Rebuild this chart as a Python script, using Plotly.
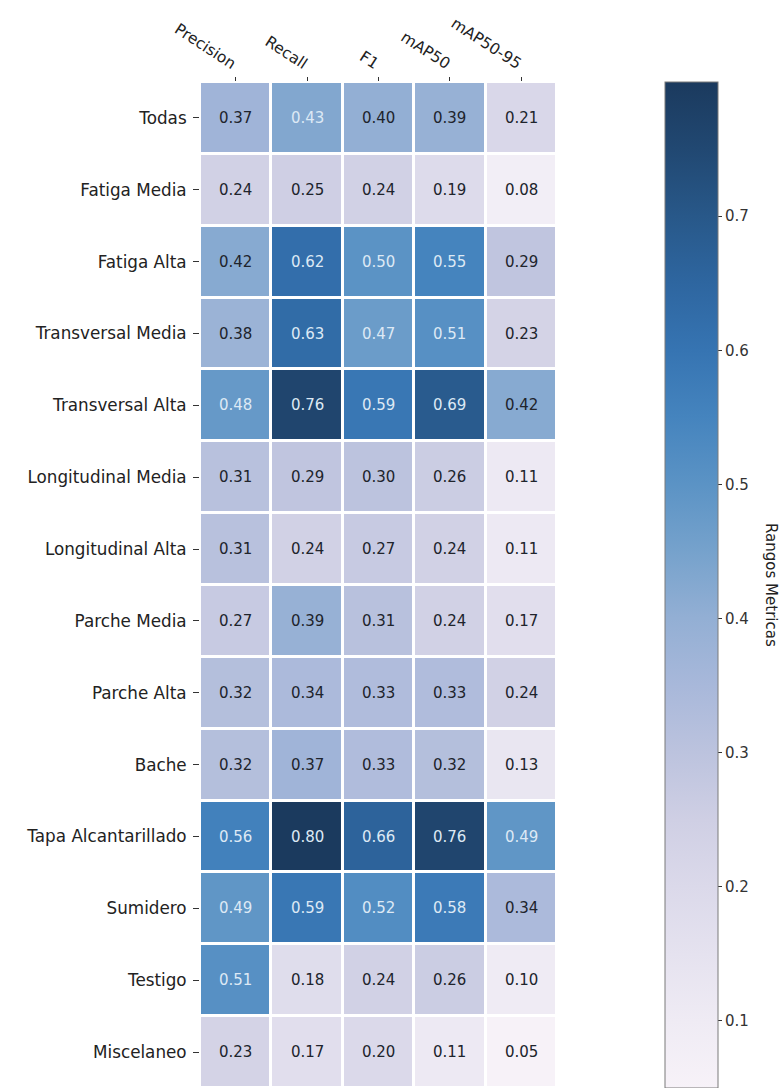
import plotly.graph_objects as go

# Detection metrics per defect class
categorias = [
    "Todas", "Fatiga Media", "Fatiga Alta", "Transversal Media", "Transversal Alta",
    "Longitudinal Media", "Longitudinal Alta", "Parche Media", "Parche Alta", "Bache",
    "Tapa Alcantarillado", "Sumidero", "Testigo", "Miscelaneo",
]
metricas = ["Precision", "Recall", "F1", "mAP50", "mAP50-95"]

precision = [0.37, 0.24, 0.42, 0.38, 0.48, 0.31, 0.31, 0.27, 0.32, 0.32, 0.56, 0.49, 0.51, 0.23]
recall = [0.43, 0.25, 0.62, 0.63, 0.76, 0.29, 0.24, 0.39, 0.34, 0.37, 0.80, 0.59, 0.18, 0.17]
f1 = [0.40, 0.24, 0.50, 0.47, 0.59, 0.30, 0.27, 0.31, 0.33, 0.33, 0.66, 0.52, 0.24, 0.20]
map50 = [0.39, 0.19, 0.55, 0.51, 0.69, 0.26, 0.24, 0.24, 0.33, 0.32, 0.76, 0.58, 0.26, 0.11]
map50_95 = [0.21, 0.08, 0.29, 0.23, 0.42, 0.11, 0.11, 0.17, 0.24, 0.13, 0.49, 0.34, 0.10, 0.05]

colorbar_ticks = [0.1, 0.2, 0.3, 0.4, 0.5, 0.6, 0.7]

columnas = [precision, recall, f1, map50, map50_95]
z = [[col[i] for col in columnas] for i in range(len(categorias))]

zmin = min(min(c) for c in columnas)
zmax = max(max(c) for c in columnas)

# Light lavender to dark navy scale
stops = [
    (0.05, "#f7f2f8"), (0.10, "#efebf4"), (0.20, "#dbd9ea"), (0.25, "#cfcfe4"),
    (0.30, "#bcc3de"), (0.35, "#a8b8da"), (0.40, "#93afd4"), (0.45, "#76a2cc"),
    (0.50, "#5b93c5"), (0.55, "#4584be"), (0.60, "#3674b2"), (0.65, "#2e66a0"),
    (0.70, "#285889"), (0.75, "#214872"), (0.80, "#1b3a5e"),
]
colorscale = [[(v - zmin) / (zmax - zmin), c] for v, c in stops]

FONT = "DejaVu Sans"

fig = go.Figure()
fig.add_trace(go.Heatmap(
    z=z, x=metricas, y=categorias,
    zmin=zmin, zmax=zmax,
    colorscale=colorscale,
    xgap=3, ygap=3,
    hoverinfo="skip",
    colorbar=dict(
        x=1.3025, xanchor="left", xpad=0,
        y=0.5, yanchor="middle", ypad=0,
        len=1.0, lenmode="fraction",
        thickness=53,
        outlinecolor="#7a7a7a", outlinewidth=1,
        tickvals=colorbar_ticks,
        ticktext=[f"{t:.1f}" for t in colorbar_ticks],
        ticks="outside", ticklen=4, tickcolor="#333333",
        tickfont=dict(family=FONT, size=15, color="#333333"),
    ),
))

# Cell value labels
annotations = []
for i, cat in enumerate(categorias):
    for j, met in enumerate(metricas):
        v = z[i][j]
        annotations.append(dict(
            x=met, y=cat, xref="x", yref="y",
            text=f"{v:.2f}", showarrow=False,
            font=dict(family=FONT, size=15,
                      color="#dde9f5" if v >= 0.425 else "#20242c"),
        ))

# Colorbar title, placed to the right of the tick labels
annotations.append(dict(
    x=(771 - 200) / 357, y=0.5, xref="paper", yref="paper",
    xanchor="center", yanchor="middle",
    text="Rangos Metricas", textangle=90, showarrow=False,
    font=dict(family=FONT, size=15, color="#222222"),
))

fig.update_layout(
    width=784, height=1088,
    margin=dict(l=200, r=227, t=82, b=0),
    paper_bgcolor="white", plot_bgcolor="white",
    annotations=annotations,
    xaxis=dict(
        side="top", tickangle=33,
        ticks="outside", ticklen=4, tickcolor="#333333",
        tickfont=dict(family=FONT, size=15.5, color="#222222"),
        showgrid=False, zeroline=False, showline=False,
    ),
    yaxis=dict(
        autorange="reversed",
        ticks="outside", ticklen=6, tickcolor="#333333",
        ticklabelstandoff=3,
        tickfont=dict(family=FONT, size=16.8, color="#222222"),
        showgrid=False, zeroline=False, showline=False,
    ),
)

fig.write_html("out.html")
